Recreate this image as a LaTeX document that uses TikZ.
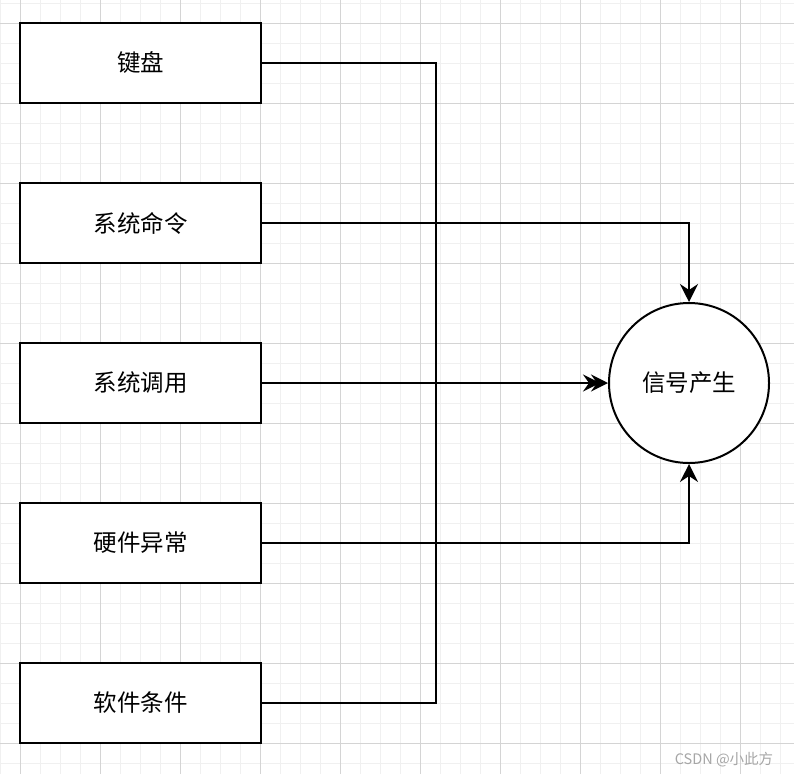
\documentclass[tikz,border=0pt]{standalone}
\usepackage{fontspec}
\newfontfamily\cjk{Noto Sans CJK SC}
\usetikzlibrary{arrows.meta}
\definecolor{minorc}{HTML}{F0F0F0}
\definecolor{majorc}{HTML}{D4D4D4}
\begin{document}
\begin{tikzpicture}[x=1pt,y=-1pt,
  minorline/.style={draw=minorc,line width=1pt},
  majorline/.style={draw=majorc,line width=1pt},
  box/.style={draw,line width=2pt,fill=white,minimum width=241pt,minimum height=80pt,inner sep=0pt,font=\cjk\fontsize{23.5}{28}\selectfont},
  roundnode/.style={draw,circle,line width=2pt,fill=white,minimum size=160pt,inner sep=0pt,font=\cjk\fontsize{23.5}{28}\selectfont},
  conn/.style={line width=2pt},
  tip/.style={-{Stealth[length=18pt,width=18pt,inset=6pt]}},
  dtip/.style={-{Stealth[length=17pt,width=17pt,inset=6pt,sep=-9pt]Stealth[length=17pt,width=17pt,inset=6pt]}}
]
\useasboundingbox (0,0) rectangle (794,774);
\fill[white] (0,0) rectangle (794,774);
\foreach \x in {0,20,...,780} \draw[minorline] (\x,0) -- (\x,774);
\foreach \y in {3,23,...,763} \draw[minorline] (0,\y) -- (794,\y);
\foreach \x in {20,100,...,740} \draw[majorline] (\x,0) -- (\x,774);
\foreach \y in {23,103,...,743} \draw[majorline] (0,\y) -- (794,\y);

\node[box] (k) at (140.5,63) {键盘};
\node[box] (c) at (140.5,223) {系统命令};
\node[box] (u) at (140.5,383) {系统调用};
\node[box] (h) at (140.5,543) {硬件异常};
\node[box] (r) at (140.5,703) {软件条件};
\node[roundnode] (s) at (689,383) {信号产生};

\draw[conn] (k.east) -- ++(174,0) |- (r.east);
\draw[conn,tip] (c.east) -| (s.north);
\draw[conn,dtip] (u.east) -- (s.west);
\draw[conn,tip] (h.east) -| (s.south);

\node[text=black!35,font=\cjk\fontsize{14.5}{16}\selectfont,inner sep=0pt] (wm) at (724,760) {CSDN @小此方};
\end{tikzpicture}
\end{document}
